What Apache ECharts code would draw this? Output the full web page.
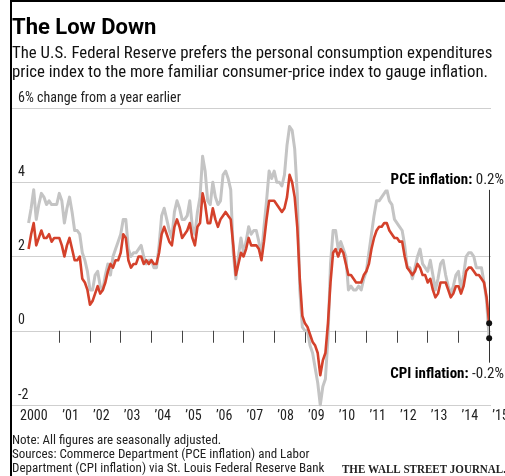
<!DOCTYPE html>
<html><head><meta charset="utf-8">
<script src="https://cdn.jsdelivr.net/npm/echarts@6/dist/echarts.min.js"></script>
<style>html,body{margin:0;padding:0;background:#fff}#c{width:505px;height:476px}</style>
</head><body><div id="c"></div>
<script>
// Monthly, Jan 2000 .. Jan 2015, % change from a year earlier
const startYear = 2000;
const cpi = [
  2.9, 3.3, 3.8, 3.0, 3.4, 3.7, 3.6, 3.4, 3.5, 3.4, 3.4, 3.4,
  3.7, 3.5, 2.9, 3.3, 3.6, 3.2, 2.7, 2.7, 2.6, 2.1, 1.9, 1.6,
  1.1, 1.1, 1.5, 1.6, 1.2, 1.1, 1.5, 1.8, 1.5, 2.0, 2.2, 2.4,
  2.6, 3.0, 3.0, 2.2, 2.0, 2.1, 2.1, 2.2, 2.3, 2.0, 1.8, 1.9,
  1.9, 1.7, 1.7, 2.3, 3.1, 3.3, 3.0, 2.7, 2.5, 3.2, 3.5, 3.3,
  3.0, 3.0, 3.1, 3.5, 2.8, 2.6, 3.2, 3.6, 4.7, 4.3, 3.5, 3.4,
  4.0, 3.6, 3.4, 3.5, 4.2, 4.3, 4.1, 3.8, 2.1, 1.4, 2.0, 2.5,
  2.1, 2.4, 2.8, 2.6, 2.7, 2.7, 2.4, 2.0, 2.8, 3.5, 4.3, 4.1,
  4.3, 4.0, 4.0, 3.9, 4.2, 5.0, 5.5, 5.4, 4.9, 3.7, 1.1, 0.1,
  0.0, 0.0, -0.4, -0.6, -1.0, -1.4, -2.0, -1.5, -1.3, -0.2, 1.8, 2.7,
  2.7, 2.2, 2.4, 2.2, 2.0, 1.1, 1.2, 1.1, 1.1, 1.2, 1.1, 1.4,
  1.6, 2.1, 2.6, 3.1, 3.5, 3.5, 3.6, 3.7, 3.8, 3.5, 3.4, 3.0,
  2.9, 2.8, 2.7, 2.3, 1.7, 1.7, 1.4, 1.7, 2.0, 2.2, 1.8, 1.7,
  1.6, 1.9, 1.5, 1.1, 1.4, 1.8, 1.9, 1.5, 1.2, 1.0, 1.2, 1.5,
  1.6, 1.1, 1.5, 2.0, 2.1, 2.1, 2.0, 1.7, 1.7, 1.7, 1.3, 0.8,
  -0.2
];
const pce = [
  2.2, 2.6, 2.9, 2.3, 2.5, 2.7, 2.5, 2.5, 2.6, 2.4, 2.5, 2.5,
  2.5, 2.3, 2.0, 2.3, 2.5, 2.2, 1.9, 1.9, 2.0, 1.4, 1.3, 1.1,
  0.7, 0.8, 1.0, 1.2, 1.0, 1.1, 1.3, 1.6, 1.8, 1.7, 1.9, 1.9,
  2.1, 2.6, 2.5, 1.9, 1.7, 1.8, 1.8, 2.0, 2.0, 1.8, 1.9, 1.8,
  1.9, 1.8, 1.8, 2.1, 2.6, 2.8, 2.6, 2.4, 2.3, 2.8, 3.0, 2.8,
  2.5, 2.6, 2.7, 2.9, 2.5, 2.3, 2.8, 2.9, 3.7, 3.4, 2.9, 2.9,
  3.3, 3.0, 2.8, 3.0, 3.1, 3.2, 3.1, 3.0, 2.3, 1.5, 1.8, 2.1,
  2.0, 2.2, 2.5, 2.3, 2.3, 2.3, 2.2, 1.9, 2.4, 3.0, 3.5, 3.5,
  3.5, 3.4, 3.3, 3.2, 3.3, 3.6, 4.2, 4.0, 3.6, 2.8, 1.4, 0.4,
  0.2, 0.1, -0.1, -0.3, -0.4, -0.6, -1.2, -0.8, -0.6, 0.2, 1.3, 2.1,
  2.2, 2.0, 2.2, 2.1, 1.8, 1.5, 1.5, 1.4, 1.3, 1.3, 1.3, 1.5,
  1.6, 1.8, 2.2, 2.5, 2.7, 2.8, 2.8, 2.9, 2.9, 2.7, 2.6, 2.5,
  2.5, 2.4, 2.4, 2.0, 1.7, 1.6, 1.5, 1.6, 1.8, 1.7, 1.5, 1.5,
  1.3, 1.4, 1.1, 0.9, 1.0, 1.3, 1.3, 1.3, 1.1, 0.9, 1.0, 1.2,
  1.2, 1.0, 1.2, 1.6, 1.7, 1.7, 1.6, 1.5, 1.5, 1.4, 1.3, 0.9,
  0.2
];
const yTicks = [-2, 0, 2, 4, 6];
const yearTicks = [2001, 2002, 2003, 2004, 2005, 2006, 2007, 2008, 2009, 2010, 2011, 2012, 2013, 2014, 2015];
const yearLabels = [2000, 2001, 2002, 2003, 2004, 2005, 2006, 2007, 2008, 2009, 2010, 2011, 2012, 2013, 2014, 2015];

const NARROW = '"Liberation Sans Narrow", "Roboto Condensed", "Noto Sans", sans-serif';
const toPairs = arr => arr.map((v, i) => [startYear + i / 12, v]);
const cpiData = toPairs(cpi), pceData = toPairs(pce);
const lastX = startYear + (cpi.length - 1) / 12;
const lastCpi = cpi[cpi.length - 1], lastPce = pce[pce.length - 1];
const fmt = v => (v > 0 ? '' : v < 0 ? '-' : '') + Math.abs(v).toFixed(1) + '%';
const yearText = y => y === 2000 ? '2000' : '\u2019' + String(y).slice(2);
const X_MIN = 1999.46, X_MAX = 2015.06;
const labelPos = y => y === 2000 ? y - 0.28 : y + 0.1;

const chart = echarts.init(document.getElementById('c'), null, {renderer: 'canvas'});
chart.setOption({
  animation: false,
  backgroundColor: '#fff',
  grid: {left: 12, right: 14, top: 108, bottom: 71, containLabel: false},
  xAxis: {
    type: 'value', min: X_MIN, max: X_MAX,
    axisLine: {show: true, lineStyle: {color: '#cfcfcf', width: 1}},
    splitLine: {show: false},
    axisTick: {show: true, customValues: yearTicks, length: 12, lineStyle: {color: '#444', width: 1}},
    axisLabel: {
      show: true, customValues: yearLabels.map(labelPos).filter(v => v <= X_MAX),
      formatter: v => yearText(Math.round(v)),
      align: 'left', margin: 4, fontSize: 14, color: '#222', fontFamily: NARROW
    }
  },
  yAxis: {
    type: 'value', min: -2, max: 6, interval: 2,
    axisLine: {show: false}, axisTick: {show: false},
    splitLine: {show: true, lineStyle: {color: ['#cfcfcf', '#333', '#cfcfcf', '#cfcfcf', '#cfcfcf'], width: 1}},
    axisLabel: {
      inside: true, margin: 6, verticalAlign: 'bottom', padding: [0, 0, 3, 0],
      fontSize: 14, color: '#222', fontFamily: NARROW,
      formatter: v => v === 6 ? '6% change from a year earlier' : String(v)
    }
  },
  series: [
    {
      name: 'CPI', type: 'line', data: cpiData, symbol: 'none', z: 2,
      lineStyle: {color: '#c4c4c4', width: 3, join: 'round'},
      markPoint: {symbol: 'circle', symbolSize: 6, itemStyle: {color: '#111'}, label: {show: false},
        data: [{coord: [lastX, lastCpi]}]}
    },
    {
      name: 'PCE', type: 'line', data: pceData, symbol: 'none', z: 3,
      lineStyle: {color: '#d4412b', width: 2.6, join: 'round'},
      markLine: {symbol: 'none', silent: true, label: {show: false},
        lineStyle: {color: '#333', width: 1, type: 'solid'},
        data: [[{coord: [lastX, 3.8]}, {coord: [lastX, -0.86]}]]},
      markPoint: {symbol: 'circle', symbolSize: 6, itemStyle: {color: '#111'}, label: {show: false},
        data: [{coord: [lastX, lastPce]}]}
    }
  ],
  graphic: [
    {type: 'line', shape: {x1: 11, y1: 0, x2: 11, y2: 476}, style: {stroke: '#000', lineWidth: 2}, z: 100},
    {type: 'line', shape: {x1: 11, y1: 1, x2: 505, y2: 1}, style: {stroke: '#000', lineWidth: 2}, z: 100},
    {type: 'text', z: 100, style: {x: 12, y: 28, text: 'The Low Down', textVerticalAlign: 'middle',
      font: 'bold 22px Roboto, "Noto Sans", sans-serif', fill: '#000'}},
    {type: 'text', z: 100, style: {x: 12, y: 54, text: 'The U.S. Federal Reserve prefers the personal consumption expenditures', textVerticalAlign: 'middle',
      font: '16.8px ' + NARROW, fill: '#111'}},
    {type: 'text', z: 100, style: {x: 12, y: 73, text: 'price index to the more familiar consumer-price index to gauge inflation.', textVerticalAlign: 'middle',
      font: '16.8px ' + NARROW, fill: '#111'}},
    {type: 'text', z: 100, style: {x: 504, y: 180, text: '{b|PCE inflation:} ' + fmt(lastPce), align: 'right', verticalAlign: 'middle',
      backgroundColor: '#fff', padding: [2, 0, 2, 10],
      rich: {b: {fontWeight: 'bold', fontSize: 15, fontFamily: NARROW, fill: '#000'}},
      fontSize: 15, fontFamily: NARROW, fill: '#222'}},
    {type: 'text', z: 100, style: {x: 504, y: 374, text: '{b|CPI inflation:} ' + fmt(lastCpi), align: 'right', verticalAlign: 'middle',
      backgroundColor: '#fff', padding: [2, 0, 2, 6],
      rich: {b: {fontWeight: 'bold', fontSize: 15, fontFamily: NARROW, fill: '#000'}},
      fontSize: 15, fontFamily: NARROW, fill: '#222'}},
    {type: 'text', z: 100, style: {x: 12, y: 441, text: 'Note: All figures are seasonally adjusted.', textVerticalAlign: 'middle',
      font: '13px ' + NARROW, fill: '#222'}},
    {type: 'text', z: 100, style: {x: 12, y: 455, text: 'Sources: Commerce Department (PCE inflation) and Labor', textVerticalAlign: 'middle',
      font: '13px ' + NARROW, fill: '#222'}},
    {type: 'text', z: 100, style: {x: 12, y: 469, text: 'Department (CPI inflation) via St. Louis Federal Reserve Bank', textVerticalAlign: 'middle',
      font: '13px ' + NARROW, fill: '#222'}},
    {type: 'text', z: 100, x: 342, y: 470, scaleX: 0.85, style: {x: 0, y: 0, text: 'THE WALL STREET JOURNAL.', textVerticalAlign: 'middle',
      font: 'bold 13px "Liberation Serif", "DejaVu Serif", serif', fill: '#222'}}
  ]
});

// Year labels that fall just past the axis end (the reference shows a clipped '15)
const extra = yearLabels.filter(y => labelPos(y) > X_MAX).map(y => {
  const px = chart.convertToPixel({xAxisIndex: 0}, labelPos(y));
  const py = chart.convertToPixel({yAxisIndex: 0}, -2);
  return {type: 'text', z: 100, style: {x: px, y: py + 4, text: yearText(y), textVerticalAlign: 'top',
    font: '14px ' + NARROW, fill: '#222'}};
});
if (extra.length) {
  const g = chart.getOption().graphic[0].elements.map(e => e);
  chart.setOption({graphic: extra.map((e, i) => Object.assign({id: 'extra' + i}, e))});
}
</script></body></html>
